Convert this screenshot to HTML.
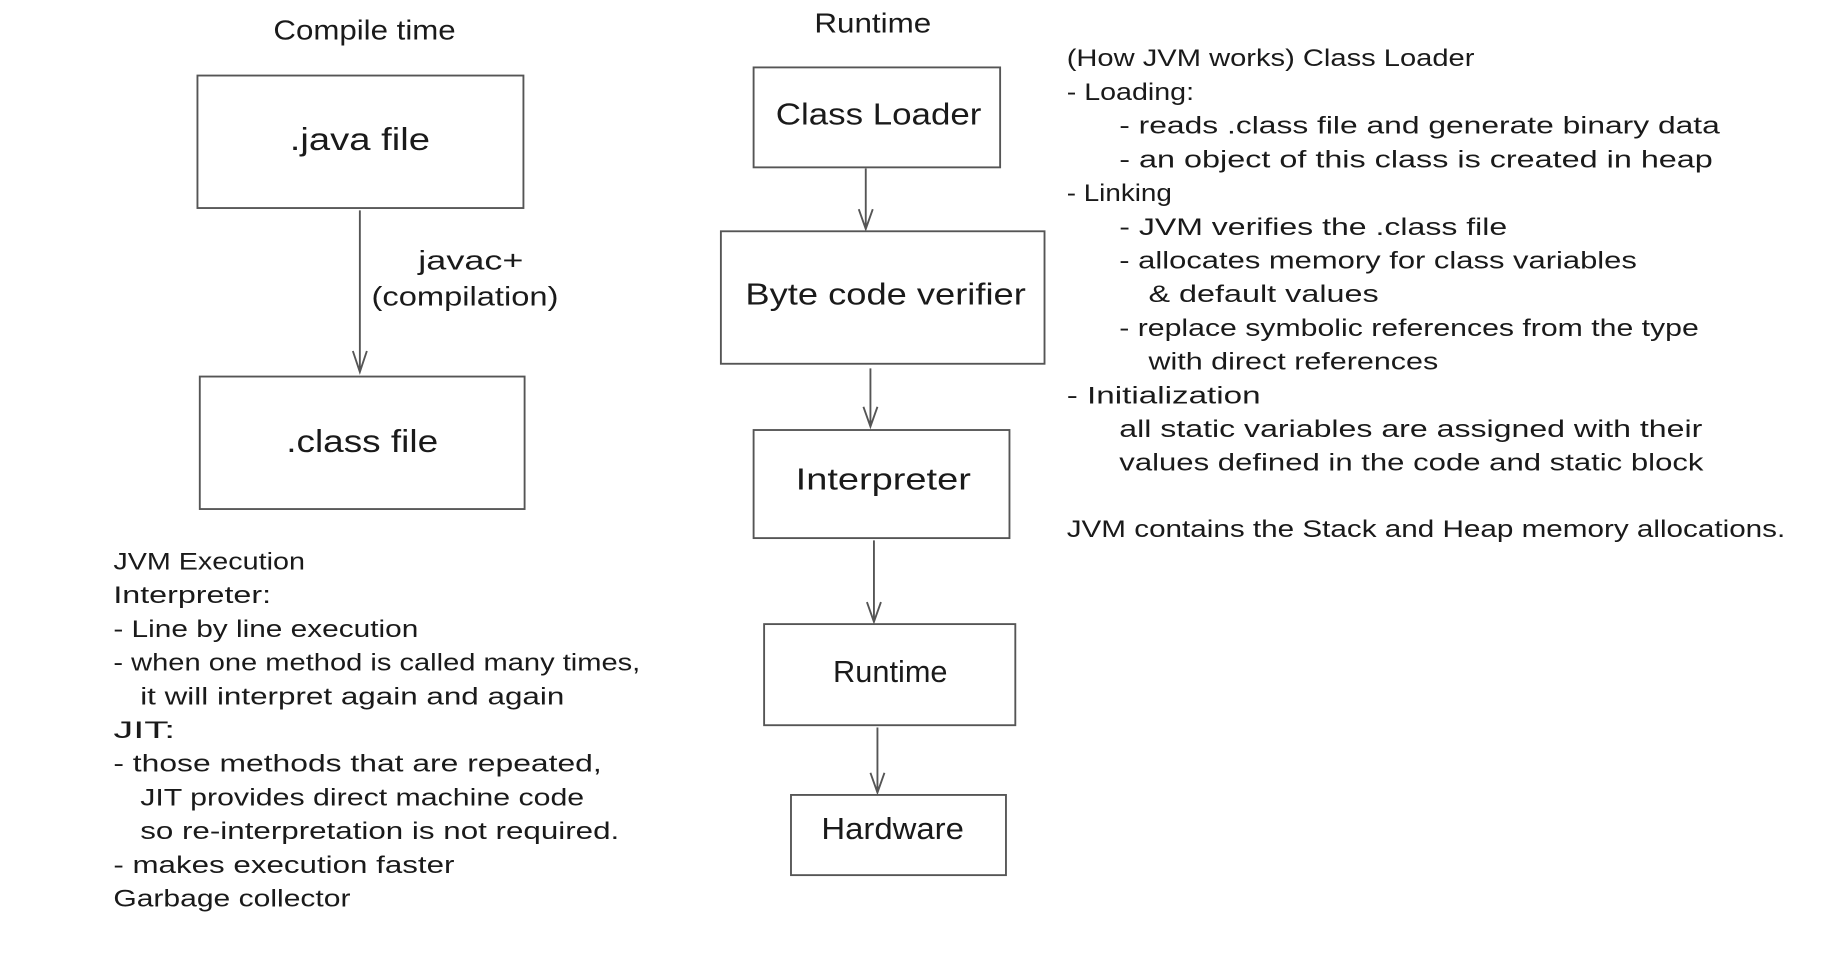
<!DOCTYPE html>
<html><head><meta charset="utf-8"><style>
html,body{margin:0;padding:0;background:#fff;width:1832px;height:953px;overflow:hidden}
svg{display:block}
text{font-family:"Liberation Sans",sans-serif;fill:#1a1a1a}
</style></head><body>
<svg width="1832" height="953" viewBox="0 0 1568 820" preserveAspectRatio="none" xmlns="http://www.w3.org/2000/svg">
<g fill="none" stroke="#555" stroke-width="1.6">
<rect x="169" y="65" width="279" height="114"/>
<rect x="171" y="324" width="278" height="114"/>
<rect x="645" y="58" width="211" height="86"/>
<rect x="617" y="199" width="277" height="114"/>
<rect x="645" y="370" width="219" height="93"/>
<rect x="654" y="537" width="215" height="87"/>
<rect x="677" y="684" width="184" height="69"/>
<path d="M308 181 V320 M302 302 L308 320 L314 302"/>
<path d="M741 145 V197 M735 180 L741 197 L747 180"/>
<path d="M745 317 V367 M739 350 L745 367 L751 350"/>
<path d="M748 465 V535 M742 518 L748 535 L754 518"/>
<path d="M751 626 V682 M745 665 L751 682 L757 665"/>
</g>
<g font-size="24" text-anchor="middle">
<text x="312" y="34" textLength="156" lengthAdjust="spacingAndGlyphs">Compile time</text>
<text x="747" y="28" textLength="100" lengthAdjust="spacingAndGlyphs">Runtime</text>
<text x="308" y="129" font-size="27" textLength="120" lengthAdjust="spacingAndGlyphs">.java file</text>
<text x="310" y="389" font-size="27" textLength="130" lengthAdjust="spacingAndGlyphs">.class file</text>
<text x="752" y="107" font-size="26" textLength="176" lengthAdjust="spacingAndGlyphs">Class Loader</text>
<text x="758" y="262" font-size="26" textLength="240" lengthAdjust="spacingAndGlyphs">Byte code verifier</text>
<text x="756" y="421" font-size="26" textLength="150" lengthAdjust="spacingAndGlyphs">Interpreter</text>
<text x="762" y="587" font-size="26" textLength="98" lengthAdjust="spacingAndGlyphs">Runtime</text>
<text x="764" y="722" font-size="26" textLength="122" lengthAdjust="spacingAndGlyphs">Hardware</text>
<text x="403" y="232" font-size="23" textLength="90" lengthAdjust="spacingAndGlyphs">javac+</text>
<text x="398" y="263" font-size="23" textLength="160" lengthAdjust="spacingAndGlyphs">(compilation)</text>
</g>
<g font-size="21">
<text x="913" y="57" textLength="349" lengthAdjust="spacingAndGlyphs">(How JVM works) Class Loader</text>
<text x="913" y="86" textLength="109" lengthAdjust="spacingAndGlyphs">- Loading:</text>
<text x="958" y="115" textLength="514" lengthAdjust="spacingAndGlyphs">- reads .class file and generate binary data</text>
<text x="958" y="144" textLength="508" lengthAdjust="spacingAndGlyphs">- an object of this class is created in heap</text>
<text x="913" y="173" textLength="90" lengthAdjust="spacingAndGlyphs">- Linking</text>
<text x="958" y="202" textLength="332" lengthAdjust="spacingAndGlyphs">- JVM verifies the .class file</text>
<text x="958" y="231" textLength="443" lengthAdjust="spacingAndGlyphs">- allocates memory for class variables</text>
<text x="983" y="260" textLength="197" lengthAdjust="spacingAndGlyphs">&amp; default values</text>
<text x="958" y="289" textLength="496" lengthAdjust="spacingAndGlyphs">- replace symbolic references from the type</text>
<text x="983" y="318" textLength="248" lengthAdjust="spacingAndGlyphs">with direct references</text>
<text x="913" y="347" textLength="166" lengthAdjust="spacingAndGlyphs">- Initialization</text>
<text x="958" y="376" textLength="499" lengthAdjust="spacingAndGlyphs">all static variables are assigned with their</text>
<text x="958" y="405" textLength="500" lengthAdjust="spacingAndGlyphs">values defined in the code and static block</text>
<text x="913" y="462" textLength="615" lengthAdjust="spacingAndGlyphs">JVM contains the Stack and Heap memory allocations.</text>

<text x="97" y="490" textLength="164" lengthAdjust="spacingAndGlyphs">JVM Execution</text>
<text x="97" y="519" textLength="135" lengthAdjust="spacingAndGlyphs">Interpreter:</text>
<text x="97" y="548" textLength="261" lengthAdjust="spacingAndGlyphs">- Line by line execution</text>
<text x="97" y="577" textLength="451" lengthAdjust="spacingAndGlyphs">- when one method is called many times,</text>
<text x="120" y="606" textLength="363" lengthAdjust="spacingAndGlyphs">it will interpret again and again</text>
<text x="97" y="635" textLength="53" lengthAdjust="spacingAndGlyphs">JIT:</text>
<text x="97" y="664" textLength="418" lengthAdjust="spacingAndGlyphs">- those methods that are repeated,</text>
<text x="120" y="693" textLength="380" lengthAdjust="spacingAndGlyphs">JIT provides direct machine code</text>
<text x="120" y="722" textLength="410" lengthAdjust="spacingAndGlyphs">so re-interpretation is not required.</text>
<text x="97" y="751" textLength="292" lengthAdjust="spacingAndGlyphs">- makes execution faster</text>
<text x="97" y="780" textLength="203" lengthAdjust="spacingAndGlyphs">Garbage collector</text>
</g>
</svg>
</body></html>
